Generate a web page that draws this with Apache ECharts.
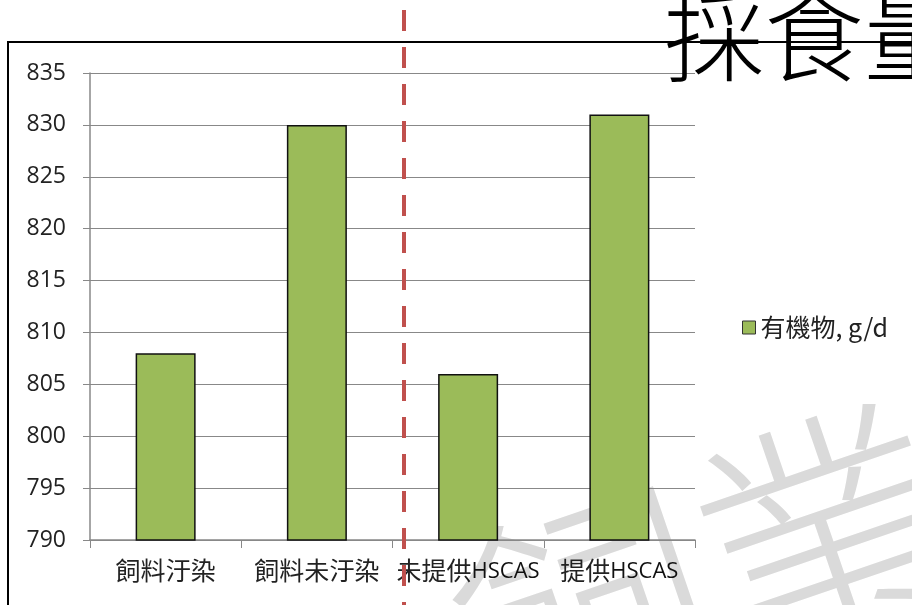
<!DOCTYPE html>
<html><head><meta charset="utf-8">
<script src="https://cdn.jsdelivr.net/npm/echarts@6/dist/echarts.min.js"></script>
<style>html,body{margin:0;padding:0;background:#fff}#c{width:912px;height:605px}</style>
</head><body><div id="c"></div>
<script>
const categories = ['飼料汙染', '飼料未汙染', '未提供HSCAS', '提供HSCAS'];
const organicMatter = [808, 830, 806, 831];
const seriesName = '有機物, g/d';
const titleText = '採食量';
const watermarkText = '飼業';
const yMin = 790, yMax = 835, yStep = 5;

const chart = echarts.init(document.getElementById('c'), null, {renderer: 'canvas'});
const cjk = '"Noto Sans CJK TC", "Noto Sans", sans-serif';
chart.setOption({
  backgroundColor: '#fff',
  animation: false,
  graphic: [
    {type: 'rect', z: 0, shape: {x: 8, y: 42, width: 1000, height: 700},
     style: {fill: 'none', stroke: '#000', lineWidth: 2}},
    {type: 'text', z: 0, x: 505, y: 780, rotation: 0.33,
     style: {text: watermarkText, font: '300 255px "Noto Sans CJK TC"', fill: '#dadada', textAlign: 'left', textVerticalAlign: 'bottom'}},
    {type: 'text', z: 100, left: 664, top: -14,
     style: {text: titleText, font: '300 100px "Noto Sans CJK TC"', fill: '#000'}},
    {type: 'line', z: 100, shape: {x1: 404, y1: 10, x2: 404, y2: 605},
     style: {stroke: '#C0504D', lineWidth: 4, lineDash: [21, 16]}}
  ],
  legend: {
    left: 737, top: 310, orient: 'vertical', icon: 'rect', itemWidth: 13, itemHeight: 13,
    itemGap: 4,
    textStyle: {fontSize: 25, color: '#222', fontFamily: cjk},
    data: [{name: seriesName, itemStyle: {borderColor: '#333', borderWidth: 1}}]
  },
  grid: {left: 90, top: 73, right: 217, bottom: 65, containLabel: false},
  xAxis: {
    type: 'category', data: categories,
    axisLine: {lineStyle: {color: '#888', width: 1.5}},
    axisTick: {show: true, length: 8, lineStyle: {color: '#888'}},
    axisLabel: {
      color: '#222', margin: 18, fontFamily: cjk, interval: 0,
      formatter: function (v) {
        const m = v.match(/^([^A-Za-z]*)([A-Za-z]*)$/);
        return '{c|' + m[1] + '}' + (m[2] ? '{l|' + m[2] + '}' : '');
      },
      rich: {
        c: {fontSize: 25, color: '#222', fontFamily: cjk},
        l: {fontSize: 22, color: '#111', fontFamily: '"Open Sans", sans-serif', padding: [2, 0, 0, 0]}
      }
    }
  },
  yAxis: {
    type: 'value', min: yMin, max: yMax, interval: yStep,
    axisLine: {show: true, lineStyle: {color: '#888', width: 1.5}},
    axisTick: {show: true, length: 7, lineStyle: {color: '#888'}},
    splitLine: {lineStyle: {color: '#888', width: 1.2}},
    axisLabel: {fontSize: 23, color: '#222', margin: 24, fontFamily: '"Open Sans", sans-serif'}
  },
  series: [{
    name: seriesName, type: 'bar', data: organicMatter, barWidth: 60,
    itemStyle: {color: '#9BBB59', borderColor: '#111', borderWidth: 1.5}
  }]
});
</script></body></html>
